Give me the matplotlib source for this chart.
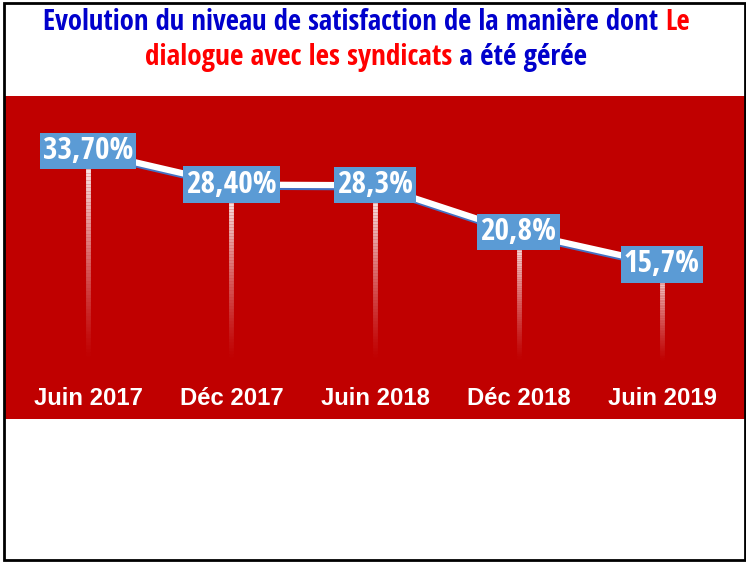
import warnings
import numpy as np
import matplotlib
matplotlib.use('Agg')
import matplotlib.pyplot as plt
import matplotlib.patheffects as pe
from matplotlib import font_manager
from matplotlib.font_manager import FontProperties
from matplotlib.collections import LineCollection
from matplotlib.patches import Rectangle

warnings.filterwarnings('ignore')

periods = ['Juin 2017', 'Déc 2017', 'Juin 2018', 'Déc 2018', 'Juin 2019']
values = [33.70, 28.40, 28.3, 20.8, 15.7]
labels = ['33,70%', '28,40%', '28,3%', '20,8%', '15,7%']

title_l1 = [('Evolution du niveau de satisfaction de la manière dont ', '#0000CC'), ('Le', '#FF0000')]
title_l2 = [('dialogue avec les syndicats', '#FF0000'), (' a été gérée', '#0000CC')]

red = '#C00000'
box_blue = '#5B9BD5'

fig = plt.figure(figsize=(7.46, 5.62), dpi=100)
renderer = fig.canvas.get_renderer()

def measure(txt, prop, size):
    p = prop.copy()
    p.set_size(size)
    w, h, d = renderer.get_text_width_height_descent(txt, p, ismath=False)
    return w, h

# pick the bold face whose proportions are closest to Arial Narrow Bold
def pick_narrow():
    best, best_err = None, 1e9
    seen = set()
    ok_names = ('liberation', 'dejavu', 'noto sans', 'roboto', 'open sans', 'lato', 'inter')
    for f in font_manager.fontManager.ttflist:
        nm = f.name.lower()
        if f.fname in seen or f.style != 'normal':
            continue
        seen.add(f.fname)
        if not nm.startswith(ok_names) or 'cjk' in nm or 'mono' in nm:
            continue
        w = f.weight
        if not ((w == 'bold') or (isinstance(w, int) and w == 700)):
            continue
        try:
            prop = FontProperties(fname=f.fname)
            tw, _ = measure('33,70%', prop, 100)
            _, th = measure('0', prop, 100)
        except Exception:
            continue
        if th <= 0 or tw <= 0:
            continue
        err = abs(tw / th - 3.9)
        if err < best_err:
            best, best_err = prop, err
    return best if best is not None else FontProperties(family='Liberation Sans', weight='bold')

fp_narrow = pick_narrow()
fp_arial = FontProperties(family=['Liberation Sans', 'DejaVu Sans'], weight='bold')

def size_for_cap(prop, cap_px):
    _, h = measure('0', prop, 100)
    return 100 * cap_px / h

def size_for_width(txt, prop, target_px):
    w, _ = measure(txt, prop, 100)
    return 100 * target_px / w

ax = fig.add_axes([5/746, 143/562, 741/746, 323/562])
ax.set_facecolor(red)
for s in ax.spines.values():
    s.set_visible(False)
ax.set_xticks([])
ax.set_yticks([])
x = np.arange(len(values))
ax.set_xlim(-0.578, 4.585)
ax.set_ylim(-8.9, 42.5)

# fading drop lines from each point down to zero
for xi, v in zip(x, values):
    ys = np.linspace(0, v, 60)
    segs = [[(xi, ys[k]), (xi, ys[k+1])] for k in range(len(ys)-1)]
    alphas = np.linspace(0.0, 1.0, len(segs)) ** 1.3
    cols = [(1, 1, 1, a) for a in alphas]
    ax.add_collection(LineCollection(segs, colors=cols, linewidths=3.5, zorder=2))

# main line
ax.plot(x, values, color='white', lw=4.5, zorder=3, solid_capstyle='butt',
        path_effects=[pe.SimpleLineShadow(offset=(0.5, -1.5), shadow_color='#4472C4', alpha=1),
                      pe.Normal()])

lab_size = size_for_cap(fp_narrow, 23)
for xi, v, lab in zip(x, values, labels):
    ax.text(xi, v, lab, ha='center', va='center', color='white',
            fontproperties=fp_narrow, fontsize=lab_size, zorder=5,
            bbox=dict(boxstyle='square,pad=0.1', fc=box_blue, ec='none'))

cat_size = size_for_width('Juin 2017', fp_arial, 109)
for xi, p in zip(x, periods):
    ax.text(xi, -5.6, p, ha='center', va='center', color='white',
            fontproperties=fp_arial, fontsize=cat_size)

# title with mixed colours
def colored_line(parts, y, target):
    full = ''.join(p[0] for p in parts)
    size = size_for_width(full, fp_narrow, target)
    widths = [measure(txt, fp_narrow, size)[0] for txt, c in parts]
    xpos = 366 - sum(widths) / 2
    for (txt, c), w in zip(parts, widths):
        fig.text(xpos / 746, y, txt, color=c, fontproperties=fp_narrow, fontsize=size,
                 va='center')
        xpos += w

colored_line(title_l1, 1 - 23/562, 647)
colored_line(title_l2, 1 - 57/562, 443)

fig.patches.append(Rectangle((4/746, 2/562), 741/746, 557/562, transform=fig.transFigure,
                             fill=False, ec='black', lw=2))

fig.savefig('out.png', dpi=100)
